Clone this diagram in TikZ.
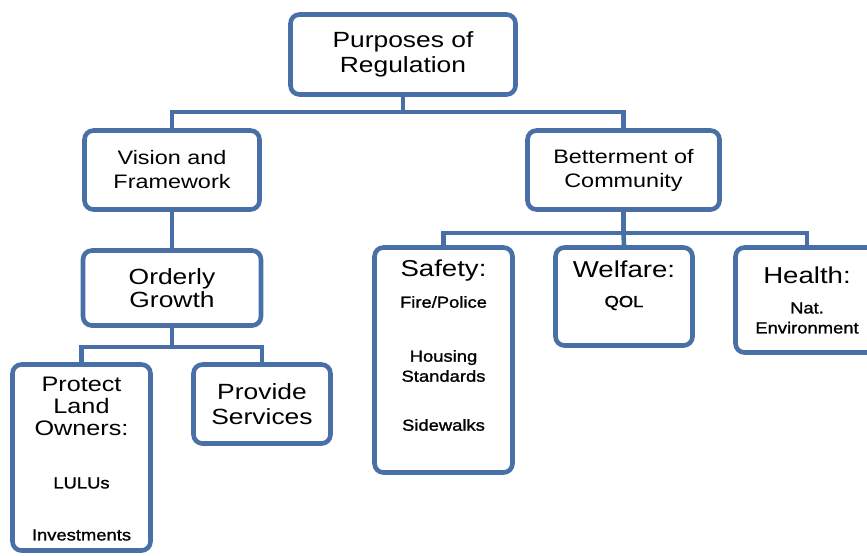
\documentclass[tikz,border=0pt]{standalone}
\usepackage{fontspec}
\setmainfont[FakeStretch=1.2]{Liberation Sans}
\newfontfamily\itemfont[FakeStretch=1.15, FakeBold=1.2]{Liberation Sans}
\usetikzlibrary{positioning}
\definecolor{boxblue}{RGB}{72,112,166}
\tikzset{
	box/.style={draw=boxblue, line width=4.6pt, rounded corners=9pt,
		fill=white, align=center, inner sep=0pt},
	bus/.style={draw=boxblue, line width=4.6pt},
	head/.style={align=center, inner sep=0pt, font=\fontsize{22}{25}\selectfont},
	mid/.style={align=center, inner sep=0pt, font=\fontsize{19.5}{24}\selectfont},
	item/.style={align=center, inner sep=0pt, font=\itemfont\fontsize{16}{20}\selectfont},
}

\begin{document}
\begin{tikzpicture}[x=1pt,y=-1pt]
	\useasboundingbox (0,0) rectangle (867,555);
	\clip (0,0) rectangle (867,555);
	% top level
	\node[box, head, minimum width=225pt, minimum height=80pt] (purpose) at (403,54.5)
		{Purposes of\\Regulation};
	% second level
	\node[box, mid, minimum width=175pt, minimum height=79pt] (vision) at (172,170)
		{Vision and\\Framework};
	\node[box, mid, minimum width=192pt, minimum height=79pt] (better) at (623.5,170)
		{Betterment of\\Community};
	% left branch
	\node[box, head, font=\fontsize{22}{23}\selectfont, minimum width=178pt, minimum height=75pt] (orderly) at (172,288)
		{Orderly\\Growth};
	\node[box, minimum width=138pt, minimum height=186pt] (protect) at (81.5,457.5) {};
	\node[box, head, minimum width=137pt, minimum height=79pt] (provide) at (262,404)
		{Provide\\Services};
	\node[head, font=\fontsize{21}{22}\selectfont] (protecttitle) at (81.5,406)
		{Protect\\Land\\Owners:};
	\node[item] (lulus) at (81.5,483) {LULUs};
	\node[item] (invest) at (81.5,535) {Investments};
	% right branch
	\node[box, minimum width=138pt, minimum height=225pt] (safety) at (443.5,360) {};
	\node[box, minimum width=137pt, minimum height=98pt] (welfare) at (624,296.5) {};
	\node[box, minimum width=143pt, minimum height=105pt] (health) at (807,300) {};
	\node[head, font=\fontsize{23}{25}\selectfont] (safetytitle) at (443.5,271) {Safety:};
	\node[item] (fire) at (443.5,302) {Fire/Police};
	\node[item] (housing) at (443.5,366) {Housing\\Standards};
	\node[item] (sidewalks) at (443.5,425) {Sidewalks};
	\node[head, font=\fontsize{23}{25}\selectfont] (welfaretitle) at (624,269) {Welfare:};
	\node[item] (qol) at (624,303) {QOL};
	\node[head, font=\fontsize{23}{25}\selectfont] (healthtitle) at (807,275) {Health:};
	\node[item] (nat) at (807,318) {Nat.\\Environment};
	% connectors
	\draw[bus] (purpose.south) -- ++(0,15) coordinate (j1);
	\draw[bus] (vision.north) |- (j1) -| (better.north);
	\draw[bus] (vision.south) -- (orderly.north);
	\draw[bus] (orderly.south) -- ++(0,19) coordinate (j2);
	\draw[bus] (protect.north) |- (j2) -| (provide.north);
	\draw[bus] (better.south) -- ++(0,21) coordinate (j3);
	\draw[bus] (safety.north) |- (j3) -| (health.north);
	\draw[bus] (j3) -- (welfare.north);
\end{tikzpicture}
\end{document}
